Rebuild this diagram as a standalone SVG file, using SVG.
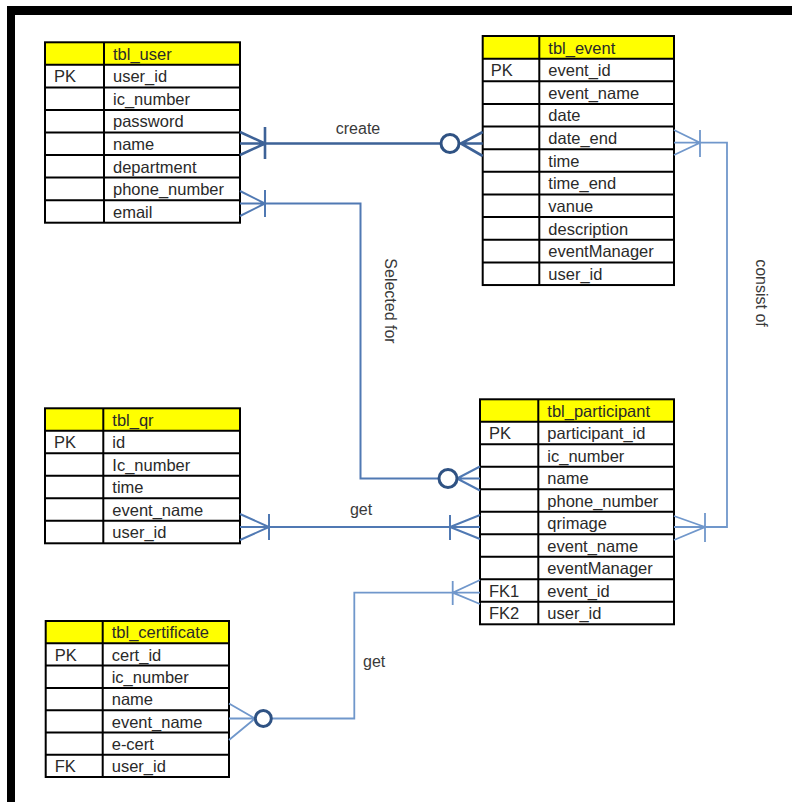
<svg xmlns="http://www.w3.org/2000/svg" width="792" height="802" viewBox="0 0 792 802">
  <style>
    .frame { fill: #000; }
    .hdr { fill: #ffff00; }
    .box { fill: none; stroke: #000; stroke-width: 2; }
    .grid { stroke: #000; stroke-width: 2; }
    .t { font-family: "Liberation Sans", Arial, sans-serif; font-size: 16.5px; fill: #2a2a2a; }
    .lbl { font-family: "Liberation Sans", Arial, sans-serif; font-size: 16px; fill: #3a3a3a; }
    .rel { fill: none; stroke-linecap: butt; stroke-linejoin: miter; }
    .dark { stroke: #3d6297; stroke-width: 2.6; }
    .mid { stroke: #5079b3; stroke-width: 2; }
    .light { stroke: #7097cb; stroke-width: 1.8; }
    .ring { fill: #fff; stroke: #2f5283; stroke-width: 3; }
  </style>

  <rect width="792" height="802" fill="#fff"/>
  <!-- frame -->
  <rect class="frame" x="7" y="6" width="785" height="9"/>
  <rect class="frame" x="7" y="6" width="8" height="796"/>

  <!-- tbl_user -->
  <g id="tbl_user" transform="translate(45,42.3)">
    <rect class="hdr" x="0" y="0" width="195" height="22.55"/>
    <rect class="box" x="0" y="0" width="195" height="180.4"/>
    <path class="grid" d="M0,22.55H195M0,45.1H195M0,67.65H195M0,90.2H195M0,112.75H195M0,135.3H195M0,157.85H195M59,0V180.4"/>
    <text class="t" x="68" y="17.5">tbl_user</text>
    <text class="t" x="9" y="40.05">PK</text>
    <text class="t" x="68" y="40.05">user_id</text>
    <text class="t" x="68" y="62.6">ic_number</text>
    <text class="t" x="68" y="85.15">password</text>
    <text class="t" x="68" y="107.7">name</text>
    <text class="t" x="68" y="130.25">department</text>
    <text class="t" x="68" y="152.8">phone_number</text>
    <text class="t" x="68" y="175.35">email</text>
  </g>

  <!-- tbl_event -->
  <g id="tbl_event" transform="translate(482.7,36)">
    <rect class="hdr" x="0" y="0" width="191.3" height="22.64"/>
    <rect class="box" x="0" y="0" width="191.3" height="249.04"/>
    <path class="grid" d="M0,22.64H191.3M0,45.28H191.3M0,67.92H191.3M0,90.56H191.3M0,113.2H191.3M0,135.84H191.3M0,158.48H191.3M0,181.12H191.3M0,203.76H191.3M0,226.4H191.3M56.6,0V249.04"/>
    <text class="t" x="65.6" y="17.5">tbl_event</text>
    <text class="t" x="8" y="40.14">PK</text>
    <text class="t" x="65.6" y="40.14">event_id</text>
    <text class="t" x="65.6" y="62.78">event_name</text>
    <text class="t" x="65.6" y="85.42">date</text>
    <text class="t" x="65.6" y="108.06">date_end</text>
    <text class="t" x="65.6" y="130.7">time</text>
    <text class="t" x="65.6" y="153.34">time_end</text>
    <text class="t" x="65.6" y="175.98">vanue</text>
    <text class="t" x="65.6" y="198.62">description</text>
    <text class="t" x="65.6" y="221.26">eventManager</text>
    <text class="t" x="65.6" y="243.9">user_id</text>
  </g>

  <!-- tbl_qr -->
  <g id="tbl_qr" transform="translate(45,408.3)">
    <rect class="hdr" x="0" y="0" width="195" height="22.5"/>
    <rect class="box" x="0" y="0" width="195" height="135"/>
    <path class="grid" d="M0,22.5H195M0,45H195M0,67.5H195M0,90H195M0,112.5H195M58.3,0V135"/>
    <text class="t" x="67.3" y="17.5">tbl_qr</text>
    <text class="t" x="9" y="40">PK</text>
    <text class="t" x="67.3" y="40">id</text>
    <text class="t" x="67.3" y="62.5">Ic_number</text>
    <text class="t" x="67.3" y="85">time</text>
    <text class="t" x="67.3" y="107.5">event_name</text>
    <text class="t" x="67.3" y="130">user_id</text>
  </g>

  <!-- tbl_participant -->
  <g id="tbl_participant" transform="translate(480,399.3)">
    <rect class="hdr" x="0" y="0" width="194" height="22.5"/>
    <rect class="box" x="0" y="0" width="194" height="225"/>
    <path class="grid" d="M0,22.5H194M0,45H194M0,67.5H194M0,90H194M0,112.5H194M0,135H194M0,157.5H194M0,180H194M0,202.5H194M58.3,0V225"/>
    <text class="t" x="67.3" y="17.5">tbl_participant</text>
    <text class="t" x="9" y="40">PK</text>
    <text class="t" x="67.3" y="40">participant_id</text>
    <text class="t" x="67.3" y="62.5">ic_number</text>
    <text class="t" x="67.3" y="85">name</text>
    <text class="t" x="67.3" y="107.5">phone_number</text>
    <text class="t" x="67.3" y="130">qrimage</text>
    <text class="t" x="67.3" y="152.5">event_name</text>
    <text class="t" x="67.3" y="175">eventManager</text>
    <text class="t" x="9" y="197.5">FK1</text>
    <text class="t" x="67.3" y="197.5">event_id</text>
    <text class="t" x="9" y="220">FK2</text>
    <text class="t" x="67.3" y="220">user_id</text>
  </g>

  <!-- tbl_certificate -->
  <g id="tbl_certificate" transform="translate(45.7,621)">
    <rect class="hdr" x="0" y="0" width="183.3" height="22.3"/>
    <rect class="box" x="0" y="0" width="183.3" height="156"/>
    <path class="grid" d="M0,22.3H183.3M0,44.6H183.3M0,66.9H183.3M0,89.2H183.3M0,111.5H183.3M0,133.8H183.3M57,0V156"/>
    <text class="t" x="66" y="17.3">tbl_certificate</text>
    <text class="t" x="9" y="39.6">PK</text>
    <text class="t" x="66" y="39.6">cert_id</text>
    <text class="t" x="66" y="61.9">ic_number</text>
    <text class="t" x="66" y="84.2">name</text>
    <text class="t" x="66" y="106.5">event_name</text>
    <text class="t" x="66" y="128.8">e-cert</text>
    <text class="t" x="9" y="151.1">FK</text>
    <text class="t" x="66" y="151.1">user_id</text>
  </g>

  <!-- relationships -->
  <g id="connectors">
    <!-- tbl_user creates tbl_event -->
    <g id="rel_create">
      <path class="rel dark" d="M240,143.5H441M240,132L265,143.5L240,155M265,127V159M459,143.5H482.7M461,143.5L482.7,132M461,143.5L482.7,156"/>
      <circle class="ring" cx="450" cy="143.5" r="9"/>
      <text class="lbl" x="358" y="134" text-anchor="middle">create</text>
    </g>
    <!-- tbl_user selected for tbl_participant -->
    <g id="rel_selected">
      <path class="rel mid" d="M240,203.5H360.5V478.5H439M240,191L265,203.5L240,216M265,190V217M457,478.5H480M457,478.5L480,466.5M457,478.5L480,490.5"/>
      <circle class="ring" cx="448" cy="478.5" r="9"/>
      <text class="lbl" transform="translate(385,301) rotate(90)" text-anchor="middle">Selected for</text>
    </g>
    <!-- tbl_event consists of tbl_participant -->
    <g id="rel_consist">
      <path class="rel light" d="M674,142.7H727V527H674M674,130L700,142.7L674,155M700,130V157M674,516L705,527L674,540M705,513V542"/>
      <text class="lbl" transform="translate(756,293) rotate(90)" text-anchor="middle">consist of</text>
    </g>
    <!-- tbl_qr get tbl_participant -->
    <g id="rel_get_qr">
      <path class="rel mid" d="M240,527H480M240,514L269,527L240,540M269,514V540M480,515L450,527L480,539M450,515V540"/>
      <text class="lbl" x="361" y="515" text-anchor="middle">get</text>
    </g>
    <!-- tbl_certificate get tbl_participant -->
    <g id="rel_get_cert">
      <path class="rel light" d="M480,592.7H354.3V718.5H271.3M255,718.5H229M255,718.5L229,703.5M255,718.5L229,740M480,580L452.7,592.7L480,604M452.7,581V605"/>
      <circle class="ring" cx="263.3" cy="718.5" r="8"/>
      <text class="lbl" x="363" y="667">get</text>
    </g>
  </g>
</svg>
